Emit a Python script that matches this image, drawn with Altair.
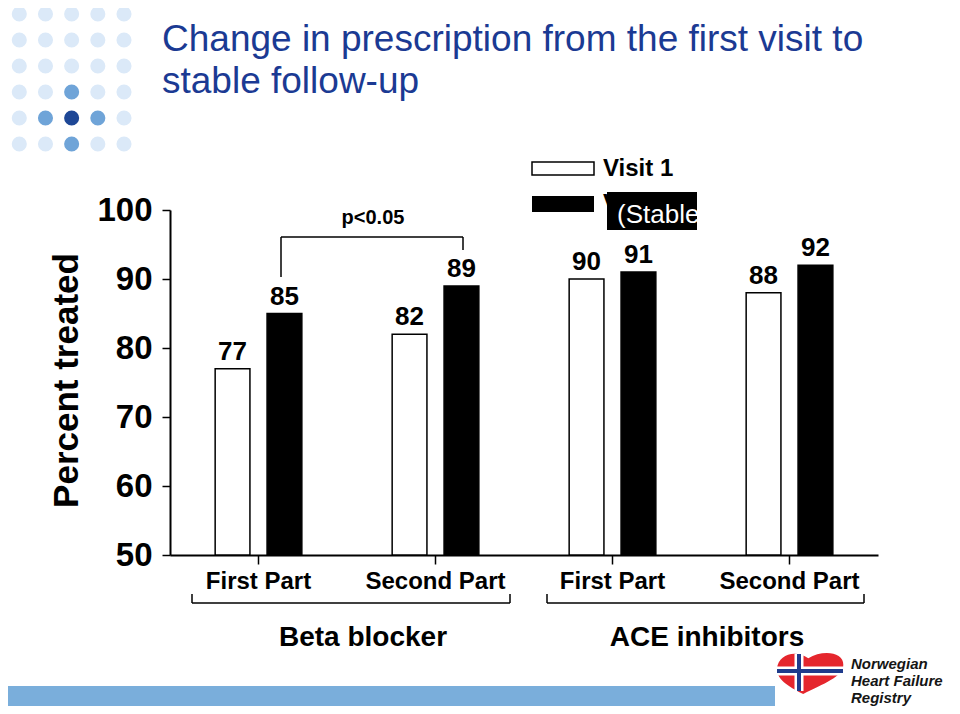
import altair as alt
import pandas as pd

# ---------------- data ----------------
subgroups = ["Beta blocker|First Part", "Beta blocker|Second Part",
             "ACE inhibitors|First Part", "ACE inhibitors|Second Part"]
visits = ["Visit 1", "Visit 2"]
visit1 = [77, 82, 90, 88]
visit2 = [85, 89, 91, 92]
groups = ["Beta blocker", "ACE inhibitors"]
y_ticks = [50, 60, 70, 80, 90, 100]
title_lines = ["Change in prescription from the first visit to", "stable follow-up"]
legend_note = "(Stable follow-up)"
p_text = "p<0.05"
logo_lines = ["Norwegian", "Heart Failure", "Registry"]
dot_grid = ["LLLLL", "LLLLL", "LLLLL", "LLMLL", "LMDML", "LLMLL"]
dot_shades = ["L", "M", "D"]
dot_colors = ["#dbe9f8", "#6fa4d8", "#1e4796"]

rows = []
for s, a, b in zip(subgroups, visit1, visit2):
    rows.append({"sub": s, "visit": visits[0], "value": a})
    rows.append({"sub": s, "visit": visits[1], "value": b})
df = pd.DataFrame(rows)

dots = pd.DataFrame([{"col": c, "row": r, "shade": ch}
                     for r, line in enumerate(dot_grid) for c, ch in enumerate(line)])

FONT = "Liberation Sans"
W, H = 708, 345

# ---------------- main bar chart ----------------
x_enc = alt.X("sub:N", sort=subgroups,
              scale=alt.Scale(paddingInner=0, paddingOuter=0),
              axis=alt.Axis(title=None, labelExpr="split(datum.value, '|')[1]", labelAngle=0,
                            labelFont=FONT, labelFontSize=24, labelFontWeight="bold",
                            labelColor="black", labelPadding=5, tickSize=9, tickColor="black",
                            tickWidth=1.5, domainColor="black", domainWidth=2, grid=False))
xo_enc = alt.XOffset("visit:N", sort=visits,
                     scale=alt.Scale(paddingInner=0.33, paddingOuter=0.87))
y_enc = alt.Y("value:Q", scale=alt.Scale(domain=[50, 100], nice=False, zero=False),
              axis=alt.Axis(values=y_ticks, format="d", labelFont=FONT, labelFontSize=33,
                            labelFontWeight="bold", labelColor="black", labelPadding=10,
                            labelFlush=False, labelOverlap=False,
                            tickSize=8, tickWidth=1.5, tickColor="black",
                            domainColor="black", domainWidth=2, grid=False,
                            title="Percent treated", titleFont=FONT, titleFontSize=35,
                            titleFontWeight="bold", titleColor="black", titleAngle=270,
                            titleX=-93, titleY=170, titleAlign="center",
                            titleBaseline="alphabetic"))

bars = alt.Chart(df).mark_bar(stroke="black", strokeWidth=1.5).encode(
    x=x_enc, xOffset=xo_enc, y=y_enc, y2=alt.datum(50),
    fill=alt.Fill("visit:N", sort=visits,
                  scale=alt.Scale(domain=visits, range=["white", "black"]), legend=None),
)

labels = alt.Chart(df).mark_text(font=FONT, fontSize=26, fontWeight="bold",
                                 baseline="alphabetic", dy=-9, color="black").encode(
    x=alt.X("sub:N", sort=subgroups),
    xOffset=alt.XOffset("visit:N", sort=visits),
    y=alt.Y("value:Q"),
    text=alt.Text("value:Q"),
)

main = alt.layer(bars, labels)

# ---------------- decoration ----------------
one = pd.DataFrame({"k": [0]})

dots_layer = alt.Chart(dots).mark_circle(size=227, opacity=1).encode(
    x=alt.X("col:Q", scale=alt.Scale(domain=[0, 4], range=[-150.7, -46], nice=False, zero=False), axis=None),
    y=alt.Y("row:Q", scale=alt.Scale(domain=[0, 5], range=[-196, -66], nice=False, zero=False), axis=None),
    color=alt.Color("shade:N", scale=alt.Scale(domain=dot_shades, range=dot_colors), legend=None),
)

title = alt.Chart(one).mark_text(text=title_lines, font=FONT, fontSize=37, color="#1b3a93",
                                 align="left", baseline="alphabetic", lineHeight=42).encode(
    x=alt.value(-8), y=alt.value(-159))

def rule(x1, x2, y1, y2, color="black", w=1.5):
    return alt.Chart(one).mark_rule(color=color, strokeWidth=w).encode(
        x=alt.value(x1), x2=alt.value(x2), y=alt.value(y1), y2=alt.value(y2))

def rect(x1, x2, y1, y2, fill, stroke=None):
    kw = {"fill": fill}
    if stroke:
        kw.update(stroke=stroke, strokeWidth=1.5)
    return alt.Chart(one).mark_rect(**kw).encode(
        x=alt.value(x1), x2=alt.value(x2), y=alt.value(y1), y2=alt.value(y2))

def txt(t, x, y, size, weight="bold", color="black", align="center", baseline="middle",
        style="normal", lh=None):
    kw = dict(text=t, font=FONT, fontSize=size, fontWeight=weight, color=color,
              align=align, baseline=baseline, fontStyle=style)
    if lh:
        kw["lineHeight"] = lh
    return alt.Chart(one).mark_text(**kw).encode(x=alt.value(x), y=alt.value(y))

# p-value bracket
pbr = [rule(111, 293, 27, 27), rule(111, 111, 27, 67), rule(293, 293, 27, 40),
       txt(p_text, 203, 8, 20)]

# group brackets and labels
gbr = [rule(22, 340, 393, 393), rule(22, 22, 384, 393), rule(340, 340, 384, 393),
       rule(377, 694, 393, 393), rule(377, 377, 384, 393), rule(694, 694, 384, 393),
       txt(groups[0], 193, 428, 28), txt(groups[1], 537, 428, 28)]

# legend
leg = [rect(362, 424, -48, -35, "white", "black"),
       rect(362, 424, -14, 2, "black"),
       txt(visits[0], 433, -41.5, 24, align="left"),
       txt(visits[1], 433, -6, 24, align="left"),
       rect(437, 527, -18, 20, "black"),
       txt(legend_note, 447, 5, 26, weight="normal", color="white", align="left")]

# bottom band and logo
HEART = ("M-0.2,0.6 C-0.5,0.45 -1,0.2 -0.97,-0.15 C-0.93,-0.55 -0.45,-0.72 -0.05,-0.45 "
         "C0.35,-0.7 1,-0.65 0.98,-0.25 C0.96,0.1 0.4,0.3 -0.2,0.6 Z")
heart = alt.Chart(one).mark_point(shape=HEART, filled=True, color="#e5262d", opacity=1,
                                  size=68 * 68).encode(x=alt.value(640), y=alt.value(463.5))
logo = [rect(-170, 605, 476, 500, "#7aaedb"),
        heart,
        rule(607, 673, 461, 461, "white", 9), rule(629, 629, 444, 481, "white", 9),
        rule(607, 673, 461, 461, "#1f3b8c", 4), rule(629, 629, 444, 481, "#1f3b8c", 4),
        txt(logo_lines, 681, 459, 15, color="#151515", align="left",
            baseline="alphabetic", style="italic", lh=17)]

chart = alt.layer(main, dots_layer, title, *pbr, *gbr, *leg, *logo).resolve_scale(
    x="independent", y="independent", color="independent"
).properties(
    width=W, height=H,
    autosize=alt.AutoSizeParams(type="none"),
    padding={"left": 162, "top": 202, "right": 74, "bottom": 151},
).configure(background="white", view=alt.ViewConfig(stroke=None))

chart.save("out.html", embed_options={"renderer": "svg", "actions": False})
